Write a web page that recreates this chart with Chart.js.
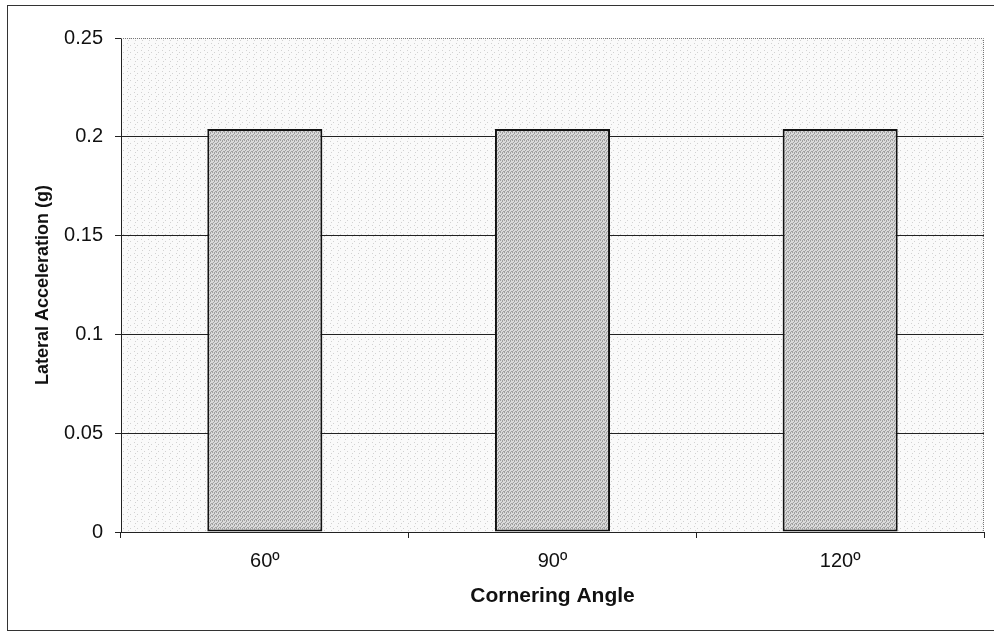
<!DOCTYPE html>
<html>
<head>
<meta charset="utf-8">
<title>Lateral Acceleration vs Cornering Angle</title>
<script src="https://cdn.jsdelivr.net/npm/chart.js@4.4.0/dist/chart.umd.min.js"></script>
<style>
  html, body { margin: 0; padding: 0; background: #fff; }
  #chart { display: block; }
</style>
</head>
<body>
<canvas id="chart" width="994" height="632"></canvas>
<script>
// Datos del ensayo
const angles = ['60º', '90º', '120º'];
const lateralAcc = [0.204, 0.204, 0.204];
const yTickValues = [0, 0.05, 0.1, 0.15, 0.2, 0.25];
const yTickLabels = ['0', '0.05', '0.1', '0.15', '0.2', '0.25'];

const FONT = '"Liberation Sans", Arial, Helvetica, sans-serif';

// Trama punteada tipo Excel (gris medio para las barras)
function makePattern(base, dot, points, size) {
  const c = document.createElement('canvas');
  c.width = size;
  c.height = size;
  const g = c.getContext('2d');
  g.fillStyle = base;
  g.fillRect(0, 0, size, size);
  g.fillStyle = dot;
  points.forEach(([x, y]) => g.fillRect(x, y, 1, 1));
  return g.createPattern(c, 'repeat');
}

const ctx = document.getElementById('chart').getContext('2d');
const barFill = makePattern('#dadada', '#a0a0a0',
  [[0, 0], [2, 1], [1, 2], [3, 3], [0, 3], [2, 0]], 4);
const plotFill = makePattern('#fafafa', '#d2d2d2',
  [[1, 1], [4, 3], [2, 5]], 7);

// Fondo del área de trazado, borde punteado y marco exterior
const framePlugin = {
  id: 'frame',
  beforeDraw(chart) {
    const { ctx, chartArea: a } = chart;
    ctx.save();
    ctx.fillStyle = plotFill;
    ctx.fillRect(a.left, a.top, a.right - a.left, a.bottom - a.top);
    ctx.restore();
  },
  afterDraw(chart) {
    const { ctx, chartArea: a } = chart;
    ctx.save();
    ctx.strokeStyle = '#777';
    ctx.lineWidth = 1;
    ctx.setLineDash([1, 1]);
    ctx.beginPath();
    ctx.moveTo(a.left, a.top + 0.5);
    ctx.lineTo(a.right - 0.5, a.top + 0.5);
    ctx.lineTo(a.right - 0.5, a.bottom);
    ctx.stroke();
    ctx.setLineDash([]);
    ctx.strokeStyle = '#333';
    ctx.strokeRect(7.5, 5.5, 1000, 625);
    ctx.restore();
  }
};

new Chart(ctx, {
  type: 'bar',
  data: {
    labels: angles,
    datasets: [{
      data: lateralAcc,
      backgroundColor: barFill,
      borderColor: '#111',
      borderWidth: 2,
      borderSkipped: false,
      barPercentage: 0.4,
      categoryPercentage: 1
    }]
  },
  options: {
    responsive: false,
    devicePixelRatio: 1,
    animation: false,
    layout: { padding: { left: 0, right: 10, top: 38, bottom: 0 } },
    plugins: {
      legend: { display: false },
      tooltip: { enabled: false }
    },
    scales: {
      x: {
        afterFit(scale) { scale.height = 100; },
        grid: {
          offset: true,
          drawOnChartArea: false,
          tickLength: 6,
          color: '#222'
        },
        border: { color: '#222', width: 1 },
        ticks: {
          padding: 11,
          color: '#111',
          font: { family: FONT, size: 20 }
        },
        title: {
          display: true,
          text: 'Cornering Angle',
          color: '#111',
          padding: { top: 0, bottom: 23 },
          font: { family: FONT, size: 21, weight: 'bold' }
        }
      },
      y: {
        min: 0,
        max: 0.25,
        afterFit(scale) { scale.width = 121; },
        afterBuildTicks(scale) {
          scale.ticks = yTickValues.map(v => ({ value: v }));
        },
        grid: {
          color: c => (c.tick && c.tick.value >= 0.25) ? 'rgba(0,0,0,0)' : '#222',
          tickColor: '#222',
          tickLength: 6
        },
        border: { color: '#222', width: 1 },
        ticks: {
          padding: 12,
          color: '#111',
          font: { family: FONT, size: 20 },
          callback: (v, i) => yTickLabels[i]
        },
        title: {
          display: true,
          text: 'Lateral Acceleration (g)',
          color: '#111',
          padding: { top: 32, bottom: 0 },
          font: { family: FONT, size: 18, weight: 'bold' }
        }
      }
    }
  },
  plugins: [framePlugin]
});
</script>
</body>
</html>
